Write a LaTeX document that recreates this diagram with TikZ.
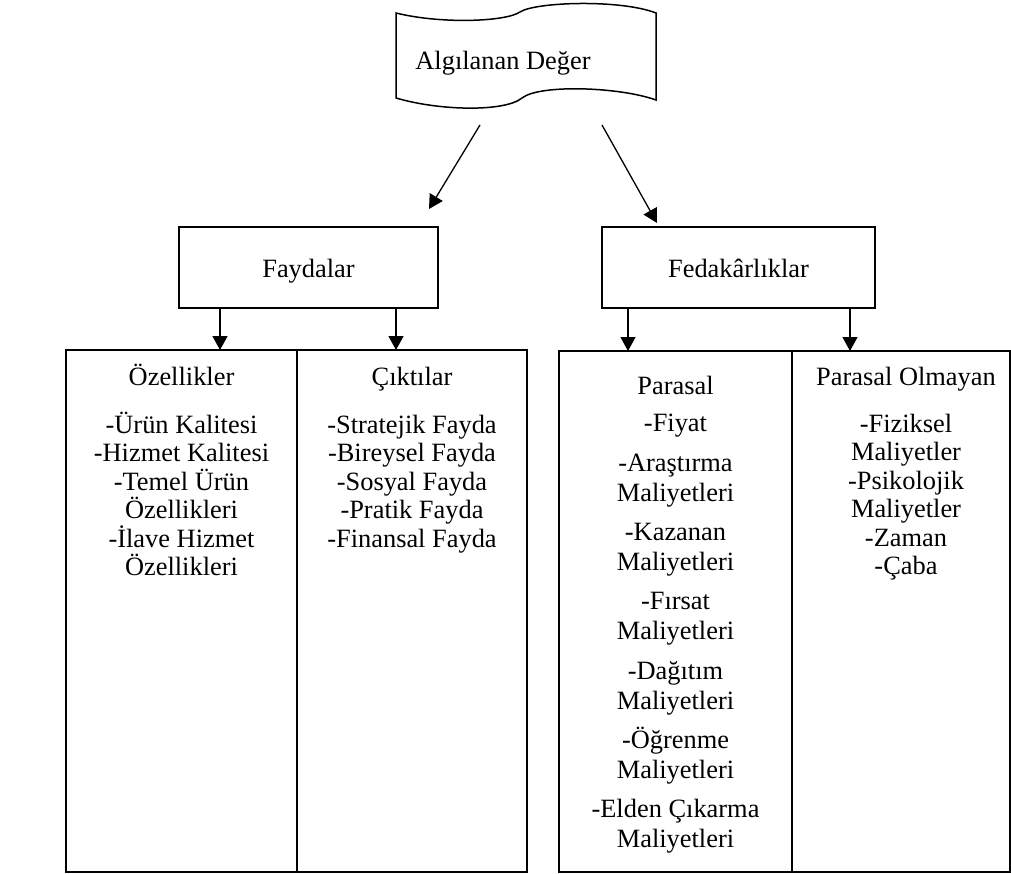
\documentclass[tikz,border=0pt]{standalone}
\usepackage{fontspec}
\setmainfont{Liberation Serif}
\usetikzlibrary{arrows.meta}

\tikzset{
  kutu/.style={draw, line width=1.6pt, minimum width=259pt, minimum height=81pt,
    inner sep=0pt, text height=24pt, text depth=3pt, font=\fontsize{26.4}{28.5}\selectfont},
  ok/.style={-{Triangle[length=14pt,width=15pt]}, line width=1.3pt},
  yazi/.style={font=\fontsize{26.4}{28.5}\selectfont, inner sep=0pt, anchor=base},
}

\begin{document}
\begin{tikzpicture}[x=1pt,y=-1pt]
\useasboundingbox (0,0) rectangle (1011,874);

% algilanan deger
\draw[line width=1.5pt] (396,13) .. controls (440,24) and (505,22) .. (520,12)
  .. controls (535,2) and (620,-1) .. (656,13) -- (656,100)
  .. controls (620,87) and (540,84) .. (522,98)
  .. controls (505,112) and (440,111) .. (396,98) -- cycle;
\node[yazi] (deger) at (503,70) {Algılanan Değer};
\coordinate (dsol) at (480,125);
\coordinate (dsag) at (602,125);
\coordinate (fsol) at (429,209);
\coordinate (fsag) at (657,223);
\draw[ok] (dsol) -- (fsol);
\draw[ok] (dsag) -- (fsag);

% faydalar / fedakarliklar
\node[kutu] (fayda) at (308.5,267.5) {Faydalar};
\node[kutu, minimum width=273pt] (feda) at (738.5,267.5) {Fedakârlıklar};

% alt kutular
\draw[line width=1.6pt] (66,350) rectangle (527,872);
\draw[line width=1.6pt] (297,350) -- (297,872);
\draw[line width=1.6pt] (559,351) rectangle (1010,872);
\draw[line width=1.6pt] (792,351) -- (792,872);
\coordinate (ozl) at (220,350);
\coordinate (cik) at (396,350);
\coordinate (par) at (628,351);
\coordinate (pom) at (850,351);
\draw[ok] (fayda.south -| ozl) -- (ozl);
\draw[ok] (fayda.south -| cik) -- (cik);
\draw[ok] (feda.south -| par) -- (par);
\draw[ok] (feda.south -| pom) -- (pom);

% ozellikler
\foreach \t/\y [count=\i] in {Özellikler/385, -Ürün Kalitesi/433, -Hizmet Kalitesi/461.5,
  -Temel Ürün/490, Özellikleri/518.5, -İlave Hizmet/547, Özellikleri/575.5}
  \node[yazi] (oz\i) at (181.5,\y) {\t};

% ciktilar
\foreach \t/\y [count=\i] in {Çıktılar/385, -Stratejik Fayda/433, -Bireysel Fayda/461.5,
  -Sosyal Fayda/490, -Pratik Fayda/518.5, -Finansal Fayda/547}
  \node[yazi] (ck\i) at (412,\y) {\t};

% parasal
\node[yazi] (pa0) at (675.5,394) {Parasal};
\node[yazi] (pa1) at (675.5,431.5) {-Fiyat};
\foreach \t/\y [count=\i] in {-Araştırma/471, -Kazanan/540.3, -Fırsat/609.6,
  -Dağıtım/679, -Öğrenme/748.3, -Elden Çıkarma/817.6}
  {
  \node[yazi] (pb\i) at (675.5,\y) {\t};
  \node[yazi] (pm\i) at (675.5,\y+30) {Maliyetleri};
  }

% parasal olmayan
\foreach \t/\y [count=\i] in {Parasal Olmayan/385, -Fiziksel/432, Maliyetler/460.5,
  -Psikolojik/489, Maliyetler/517.5, -Zaman/546, -Çaba/574.5}
  \node[yazi] (po\i) at (906,\y) {\t};

\end{tikzpicture}
\end{document}
